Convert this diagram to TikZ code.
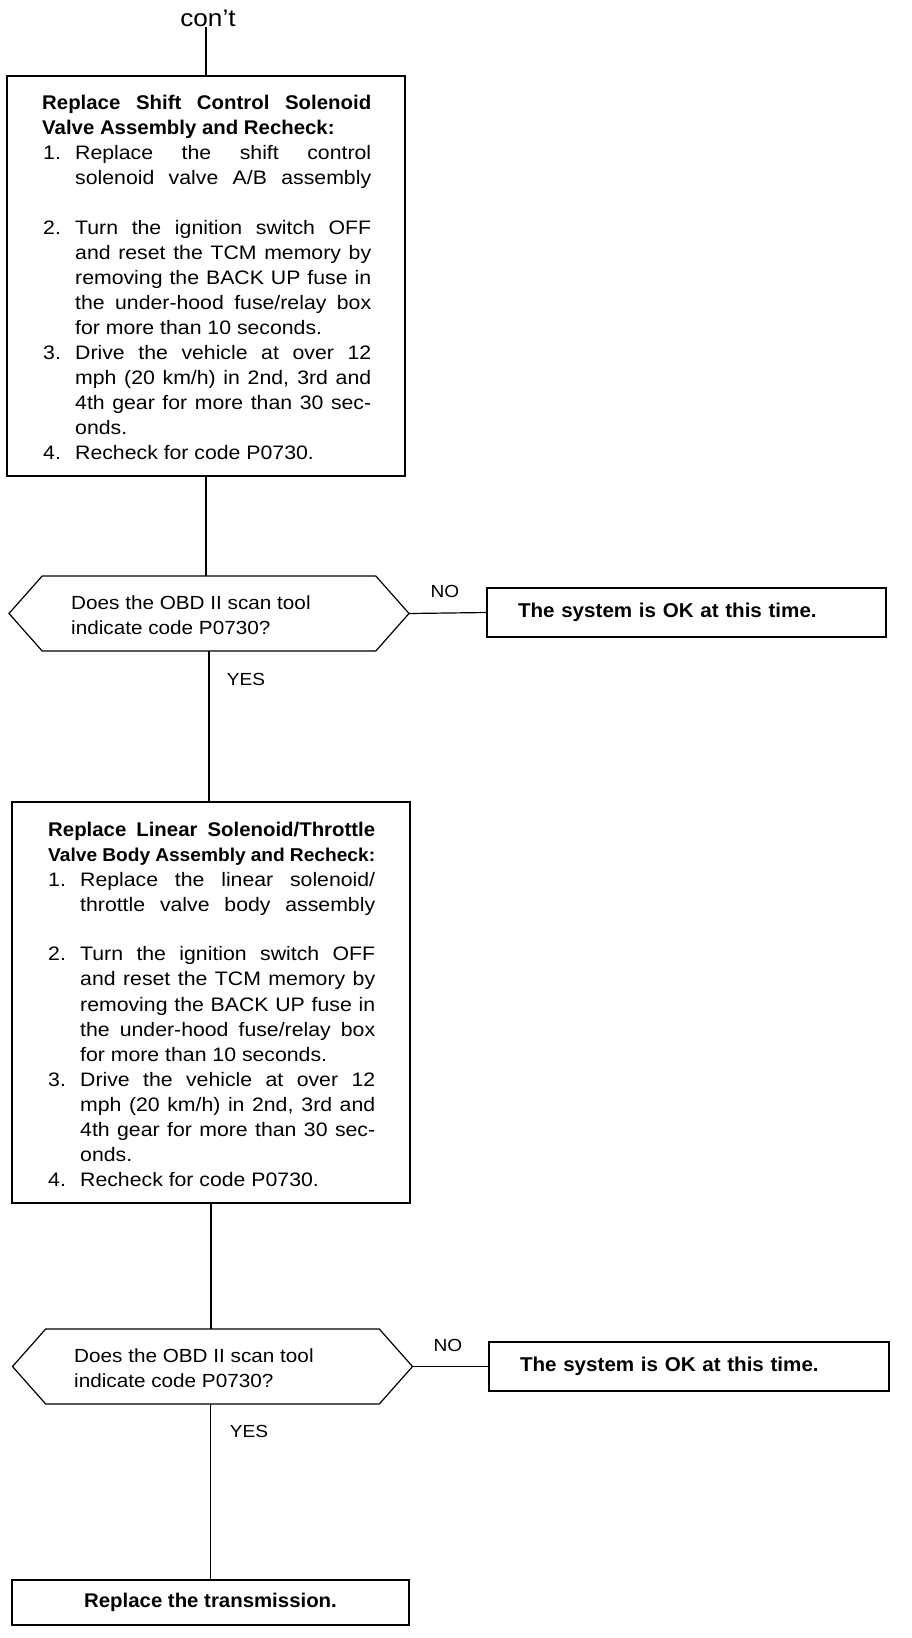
\documentclass[tikz,border=0pt]{standalone}
\usepackage{fontspec}
\setmainfont{Liberation Sans}[FakeStretch=1.09]
\newfontfamily\boldf{Liberation Sans}[FakeStretch=1.03]
\usetikzlibrary{shapes.symbols}
\newcounter{lnc}
\newcommand{\Lr}[3]{\stepcounter{lnc}\node[tx] (t\arabic{lnc}) at (#1,#2) {#3};}
\newcommand{\Lj}[4]{\stepcounter{lnc}\node[tx] (t\arabic{lnc}) at (#1,#2) {\makebox[#3][s]{#4}};}
\newcommand{\Bj}[4]{\stepcounter{lnc}\node[tx] (t\arabic{lnc}) at (#1,#2) {\boldf\bfseries\fontsize{19.8}{22}\selectfont\makebox[#3][s]{#4}};}
\tikzset{
  ln/.style={line width=1.2pt},
  box/.style={draw, line width=1.2pt, inner sep=0pt, outer sep=0pt},
  hexs/.style={signal, signal to=west and east, signal pointer angle=97, draw, line width=1.2pt,
     minimum width=400pt, minimum height=75pt, inner sep=0pt, outer sep=0pt},
  tx/.style={anchor=base west, inner sep=0pt, font=\fontsize{19.5}{22}\selectfont},
  hx/.style={anchor=west, align=left, inner sep=0pt, font=\fontsize{19}{25}\selectfont},
  lbl/.style={inner sep=0pt, font=\fontsize{17.5}{20}\selectfont},
  okbox/.style={draw, line width=1.2pt, outer sep=0pt, inner xsep=31pt, inner ysep=0pt, align=left,
     font=\boldf\bfseries\fontsize{20}{24}\selectfont}
}
\begin{document}
\begin{tikzpicture}[x=1pt,y=-1pt]
\useasboundingbox (0,0) rectangle (912,1638);
% top
\node[anchor=base, inner sep=1pt, font=\fontsize{24}{28}\selectfont] (cont) at (208,26) {con't};
% box 1
\node[box, minimum width=398pt, minimum height=400pt] (b1) at (206,276) {};
\Bj{42}{109}{329pt}{Replace Shift Control Solenoid}
\Lr{42}{134}{\boldf\bfseries\fontsize{19.8}{22}\selectfont Valve Assembly and Recheck:}
\Lr{43}{159}{1.}\Lj{75}{159}{296pt}{Replace the shift control}
\Lj{75}{184}{296pt}{solenoid valve A/B assembly}
\Lr{43}{234}{2.}\Lj{75}{234}{296pt}{Turn the ignition switch OFF}
\Lj{75}{259}{296pt}{and reset the TCM memory by}
\Lj{75}{284}{296pt}{removing the BACK UP fuse in}
\Lj{75}{309}{296pt}{the under-hood fuse/relay box}
\Lr{75}{334}{for more than 10 seconds.}
\Lr{43}{359}{3.}\Lj{75}{359}{296pt}{Drive the vehicle at over 12}
\Lj{75}{384}{296pt}{mph (20 km/h) in 2nd, 3rd and}
\Lj{75}{409}{296pt}{4th gear for more than 30 sec-}
\Lr{75}{434}{onds.}
\Lr{43}{459}{4.}\Lr{75}{459}{Recheck for code P0730.}
% decision 1
\node[hexs] (h1) at (209,613.5) {};
\node[hx] (q1) at (71,615) {Does the OBD II scan tool\\indicate code P0730?};
\node[okbox, text width=337pt, minimum height=49pt] (ok1) at (686.5,612.5) {The system is OK at this time.};
\node[lbl] (no1) at (445,591) {NO};
\node[lbl] (yes1) at (246,679) {YES};
% box 2
\node[box, minimum width=398pt, minimum height=401pt] (b2) at (211,1002.5) {};
\Bj{48}{836}{327pt}{Replace Linear Solenoid/Throttle}
\stepcounter{lnc}\node[tx] (t\arabic{lnc}) at (48,861) {\boldf\bfseries\fontsize{18.6}{22}\selectfont\makebox[327pt][s]{Valve Body Assembly and Recheck:}};
\Lr{48}{886}{1.}\Lj{80}{886}{295pt}{Replace the linear solenoid/}
\Lj{80}{911}{295pt}{throttle valve body assembly}
\Lr{48}{960}{2.}\Lj{80}{960}{295pt}{Turn the ignition switch OFF}
\Lj{80}{985}{295pt}{and reset the TCM memory by}
\Lj{80}{1011}{295pt}{removing the BACK UP fuse in}
\Lj{80}{1036}{295pt}{the under-hood fuse/relay box}
\Lr{80}{1061}{for more than 10 seconds.}
\Lr{48}{1086}{3.}\Lj{80}{1086}{295pt}{Drive the vehicle at over 12}
\Lj{80}{1111}{295pt}{mph (20 km/h) in 2nd, 3rd and}
\Lj{80}{1136}{295pt}{4th gear for more than 30 sec-}
\Lr{80}{1161}{onds.}
\Lr{48}{1186}{4.}\Lr{80}{1186}{Recheck for code P0730.}
% decision 2
\node[hexs] (h2) at (212.5,1366.5) {};
\node[hx] (q2) at (74,1368) {Does the OBD II scan tool\\indicate code P0730?};
\node[okbox, text width=338pt, minimum height=49pt] (ok2) at (689,1366.5) {The system is OK at this time.};
\node[lbl] (no2) at (448,1345) {NO};
\node[lbl] (yes2) at (249,1431) {YES};
% final
\node[box, minimum width=397pt, minimum height=45pt, font=\boldf\bfseries\fontsize{19.8}{24}\selectfont] (b3) at (210.5,1602.5) {Replace the transmission.};
% connectors
\draw[ln] (b1.north |- cont.south) -- (b1.north);
\draw[ln] (b1.south) -- (b1.south |- h1.north);
\draw[ln] (h1.east) -- (ok1.west);
\draw[ln] (h1.south) -- (h1.south |- b2.north);
\draw[ln] (b2.south) -- (b2.south |- h2.north);
\draw[ln] (h2.east) -- (ok2.west);
\draw[ln] (b3.north |- h2.south) -- (b3.north);
\end{tikzpicture}
\end{document}
